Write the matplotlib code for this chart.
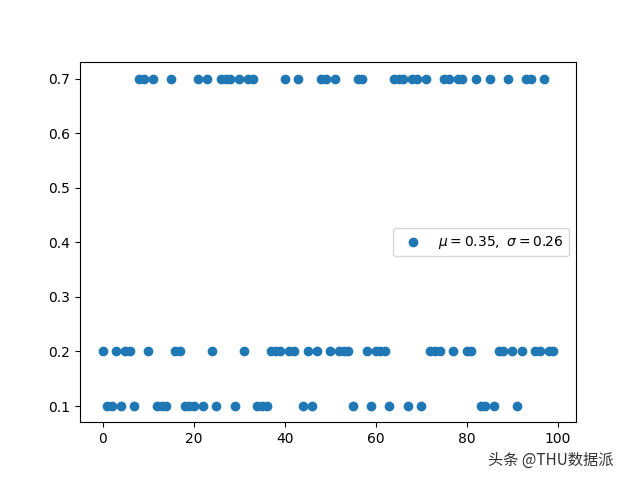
import matplotlib
matplotlib.use("Agg")
import matplotlib.pyplot as plt
import numpy as np

x_values = list(range(100))
high_idx = [8, 9, 11, 15, 21, 23, 26, 27, 28, 30, 32, 33, 40, 43, 48, 49, 51, 56, 57,
            64, 65, 66, 68, 69, 71, 75, 76, 78, 79, 82, 85, 89, 93, 94, 97]
low_idx = [1, 2, 4, 7, 12, 13, 14, 18, 19, 20, 22, 25, 29, 34, 35, 36, 44, 46, 55, 59,
           63, 67, 70, 83, 84, 86, 91]
y_values = [0.7 if i in high_idx else (0.1 if i in low_idx else 0.2) for i in x_values]

mu = np.mean(y_values)
sigma = np.std(y_values)

fig, ax = plt.subplots(figsize=(6.4, 4.8), dpi=100)
fig.subplots_adjust(top=0.87, bottom=0.12)
ax.scatter(x_values, y_values, label=r'$\mu=%.2f,\ \sigma=%.2f$' % (mu, sigma))
ax.legend(loc='center right')

fig.text(0.762, 0.032, '头条 @THU数据派', fontsize=11, color='#333333',
         family=['Noto Sans CJK SC', 'DejaVu Sans'])

fig.savefig('out.png', dpi=100)
